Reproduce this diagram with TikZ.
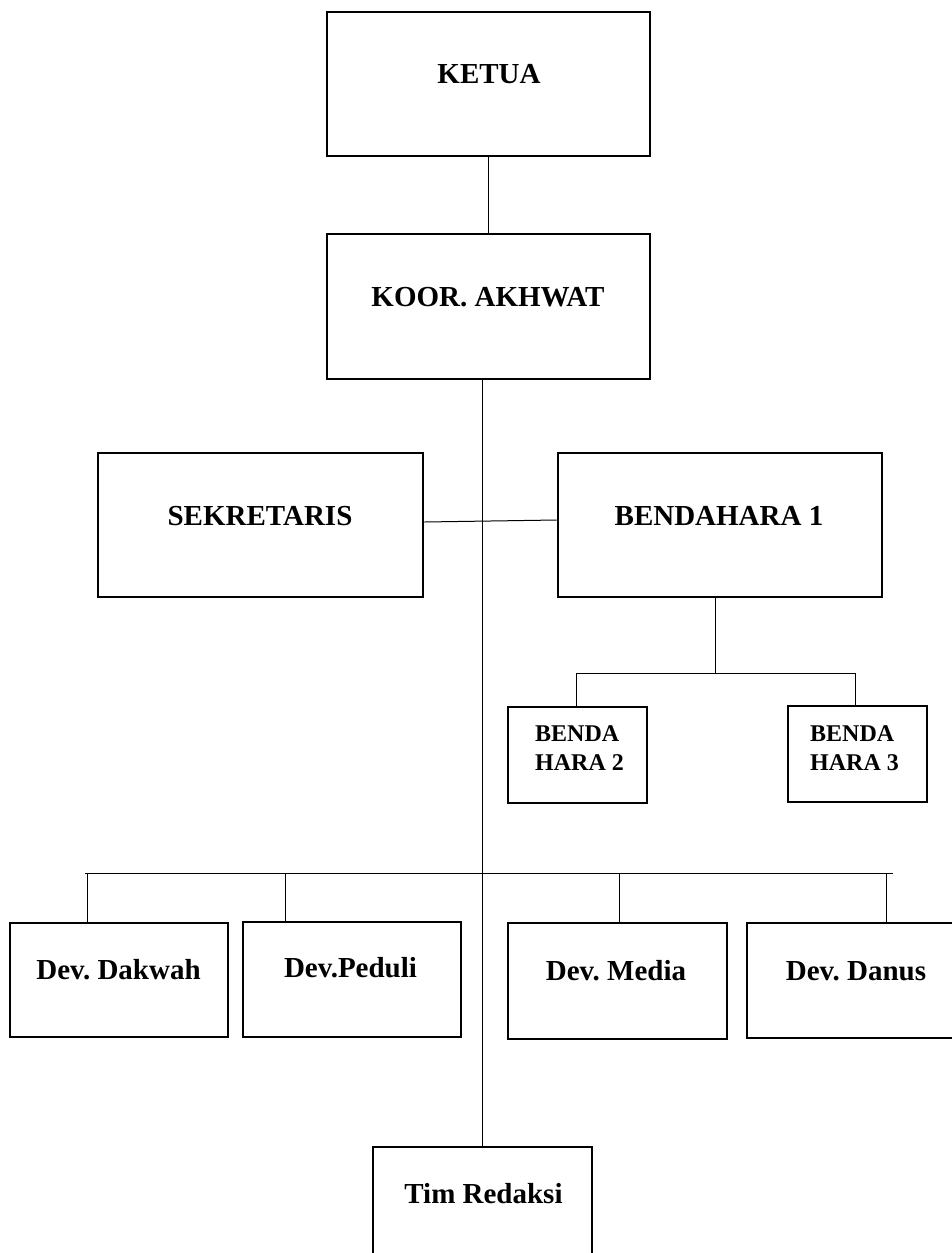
\documentclass[tikz,border=0pt]{standalone}
\usepackage{fontspec}
\setmainfont{Liberation Serif}
\frenchspacing
\begin{document}
\begin{tikzpicture}[x=1pt,y=-1pt,
  box/.style={draw, line width=2.8pt, rectangle, inner sep=0pt},
  lbl/.style={anchor=base, inner sep=0pt, font=\fontsize{29}{34}\selectfont\bfseries},
  slbl/.style={anchor=base west, inner sep=0pt, font=\fontsize{24}{29}\selectfont\bfseries},
  conn/.style={line width=1pt}]
\useasboundingbox (0,0) rectangle (952,1253);
% boxes
\node[box, minimum width=323pt, minimum height=144pt] (ketua) at (488.5,84) {};
\node[box, minimum width=323pt, minimum height=145pt] (koor) at (488.5,306.5) {};
\node[box, minimum width=325pt, minimum height=144pt] (sek) at (260.5,525) {};
\node[box, minimum width=324pt, minimum height=144pt] (ben) at (720,525) {};
\node[box, minimum width=139pt, minimum height=96pt] (bh2) at (577.5,755) {};
\node[box, minimum width=139pt, minimum height=96pt] (bh3) at (857.5,754) {};
\node[box, minimum width=218pt, minimum height=114pt] (dak) at (119,980) {};
\node[box, minimum width=218pt, minimum height=115pt] (ped) at (352,979.5) {};
\node[box, minimum width=219pt, minimum height=116pt] (med) at (617.5,981) {};
\node[box, minimum width=218pt, minimum height=115pt] (dan) at (856,980.5) {};
\node[box, minimum width=219pt, minimum height=143pt] (tim) at (482.5,1218.5) {};
% labels
\node[lbl] (tketua) at (489,83) {KETUA};
\node[lbl] (tkoor) at (488,306) {KOOR. AKHWAT};
\node[lbl] (tsek) at (260,525) {SEKRETARIS};
\node[lbl] (tben) at (719,525) {BENDAHARA 1};
\node[slbl] (tbh2a) at (535,741) {BENDA};
\node[slbl] (tbh2b) at (535,770) {HARA 2};
\node[slbl] (tbh3a) at (810,741) {BENDA};
\node[slbl] (tbh3b) at (810,770) {HARA 3};
\node[lbl] (tdak) at (118.5,979) {Dev. Dakwah};
\node[lbl] (tped) at (350.5,977) {Dev.Peduli};
\node[lbl] (tmed) at (616,980) {Dev. Media};
\node[lbl] (tdan) at (856,980) {Dev. Danus};
\node[lbl] (ttim) at (483.5,1203) {Tim Redaksi};
% connector coordinates
\coordinate (bj) at (715,673);
\coordinate (bl) at (576,673);
\coordinate (br) at (855,673);
\coordinate (busL) at (85,873);
\coordinate (busR) at (893,873);
\coordinate (d1) at (87,873);
\coordinate (d2) at (285,873);
\coordinate (d3) at (619,873);
\coordinate (d4) at (886,873);
% connectors
\draw[conn] (ketua.south) -- (koor.north);
\draw[conn] (tim.north |- koor.south) -- (tim.north);
\draw[conn] ([yshift=3pt]sek.east) -- ([yshift=5pt]ben.west);
\draw[conn] (bj |- ben.south) -- (bj);
\draw[conn] (bl) -- (br);
\draw[conn] (bl) -- (bl |- bh2.north);
\draw[conn] (br) -- (br |- bh3.north);
\draw[conn] (busL) -- (busR);
\draw[conn] (d1) -- (d1 |- dak.north);
\draw[conn] (d2) -- (d2 |- ped.north);
\draw[conn] (d3) -- (d3 |- med.north);
\draw[conn] (d4) -- (d4 |- dan.north);
\end{tikzpicture}
\end{document}
